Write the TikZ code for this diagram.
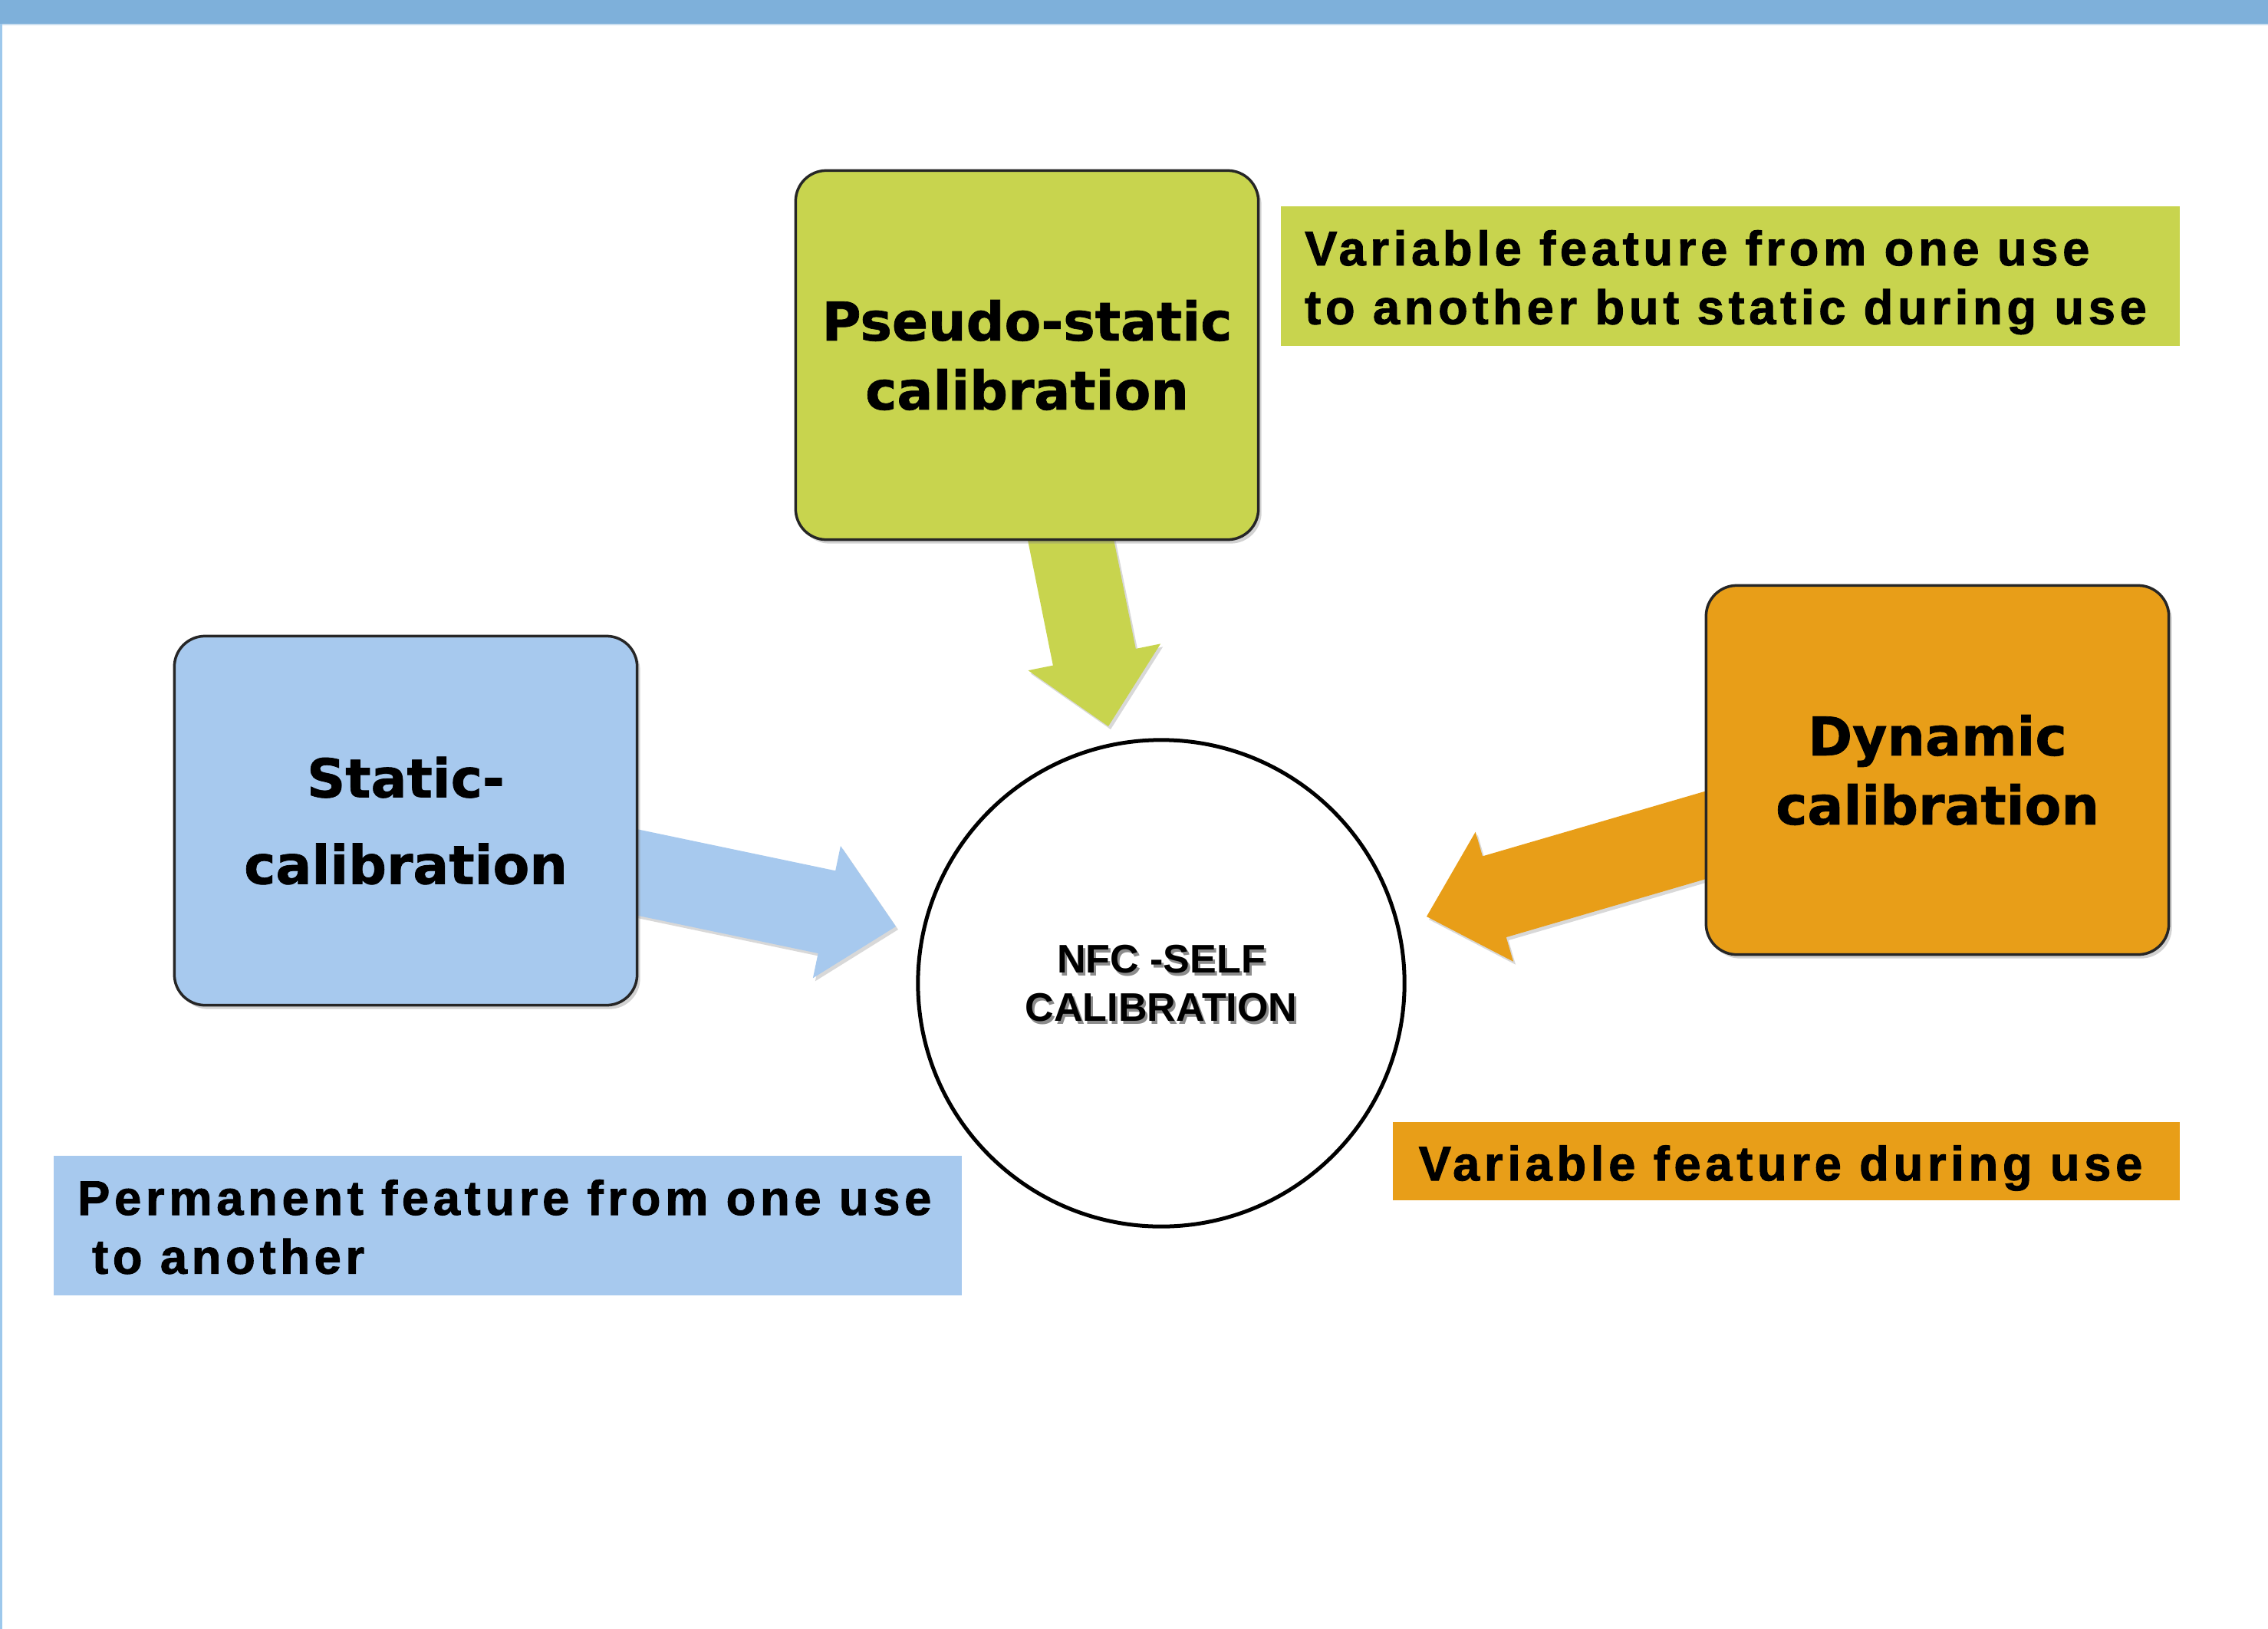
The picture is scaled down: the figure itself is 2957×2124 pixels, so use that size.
\documentclass[tikz,border=0pt]{standalone}
\usepackage{fontspec}
\usetikzlibrary{calc,shadows}
\newfontfamily\titlefont[FakeBold=1]{DejaVu Sans}
\newfontfamily\labelfont[LetterSpace=9,FakeBold=1.5]{Liberation Sans}
\newfontfamily\nfcfont{Liberation Sans}
\definecolor{barblue}{HTML}{7EB0DA}
\definecolor{edgeblue}{HTML}{9DC8EC}
\definecolor{calgreen}{HTML}{C8D44E}
\definecolor{calblue}{HTML}{A7C9EE}
\definecolor{calorange}{HTML}{E89E18}
\tikzset{
  calbox/.style={rectangle, rounded corners=0.4cm, draw=black!85, line width=0.035cm,
    minimum width=6.03cm, minimum height=4.81cm, align=center,
    font=\titlefont\bfseries\fontsize{19.8}{25.6}\selectfont,
    drop shadow={opacity=0.35, shadow xshift=0.04cm, shadow yshift=-0.05cm}},
  labelbox/.style={rectangle, inner ysep=0pt, inner xsep=0.31cm,
    font=\labelfont\bfseries\fontsize{18}{21.8}\selectfont},
  nfctext/.style={align=center, inner sep=0pt,
    font=\nfcfont\bfseries\fontsize{14.8}{17.9}\selectfont},
  arrowshadow/.style={drop shadow={opacity=0.3, shadow xshift=0.03cm, shadow yshift=-0.04cm}},
}
\newcommand{\blockarrow}[3]{%
  \coordinate (bh) at ($(#2)!0.92cm!(#1)$);
  \fill[#3, arrowshadow] ($(#1)!0.55cm!90:(#2)$) -- ($(bh)!0.55cm!90:(#2)$)
    -- ($(bh)!0.88cm!90:(#2)$) -- (#2) -- ($(bh)!0.88cm!-90:(#2)$)
    -- ($(bh)!0.55cm!-90:(#2)$) -- ($(#1)!0.55cm!-90:(#2)$) -- cycle;
}
\newcommand{\lowertext}[1]{\raisebox{-0.09cm}[\height][\depth]{#1}}
\begin{document}
\begin{tikzpicture}[x=0.01cm, y=-0.01cm]
\useasboundingbox (0,0) rectangle (2957,2124);
\fill[white] (0,0) rectangle (2957,2124);
% frame
\fill[barblue] (0,0) rectangle (2957,31);
\fill[barblue!40] (0,31) rectangle (2957,33);
\fill[edgeblue] (0,31) rectangle (3,2124);

% arrow end points
\coordinate (greenstart) at (1386,654);
\coordinate (greentip) at (1445,947);
\coordinate (bluestart) at (700,1110);
\coordinate (bluetip) at (1168,1208);
\coordinate (orangestart) at (2350,1052);
\coordinate (orangetip) at (1860,1195);

\blockarrow{greenstart}{greentip}{calgreen}
\blockarrow{bluestart}{bluetip}{calblue}
\blockarrow{orangestart}{orangetip}{calorange}

% boxes
\node[calbox, fill=calgreen] (pseudo) at (1339,463) {Pseudo-static\\calibration};
\node[calbox, fill=calblue, font=\titlefont\bfseries\fontsize{19.8}{32.1}\selectfont] (static) at (529,1070) {Static-\\calibration};
\node[calbox, fill=calorange] (dynamic) at (2526,1004) {Dynamic\\calibration};

% centre circle
\node[circle, draw=black, line width=0.05cm, fill=white, minimum size=6.34cm, inner sep=0pt] (nfc) at (1514,1282) {};
\node[nfctext, text=black!45] (nfcshade) at ($(nfc.center)+(3,4)$) {NFC -SELF\\CALIBRATION};
\node[nfctext] (nfclabel) at (nfc.center) {NFC -SELF\\CALIBRATION};

% labels
\node[labelbox, fill=calgreen, minimum width=11.71cm, minimum height=1.81cm] (pseudolabel) at (2256,360)
  {\makebox[11.09cm][l]{\lowertext{\begin{tabular}{@{}l@{}}Variable feature from one use\\to another but static during use\end{tabular}}}};
\node[labelbox, fill=calblue, minimum width=11.83cm, minimum height=1.82cm] (staticlabel) at (662,1598)
  {\makebox[11.21cm][l]{\lowertext{\begin{tabular}{@{}l@{}}Permanent feature from one use\\\hspace*{0.19cm}to another\end{tabular}}}};
\node[labelbox, fill=calorange, inner xsep=0.34cm, minimum width=10.26cm, minimum height=1.02cm] (dynamiclabel) at (2329,1514)
  {\makebox[9.58cm][l]{\lowertext{Variable feature during use}}};
\end{tikzpicture}
\end{document}
